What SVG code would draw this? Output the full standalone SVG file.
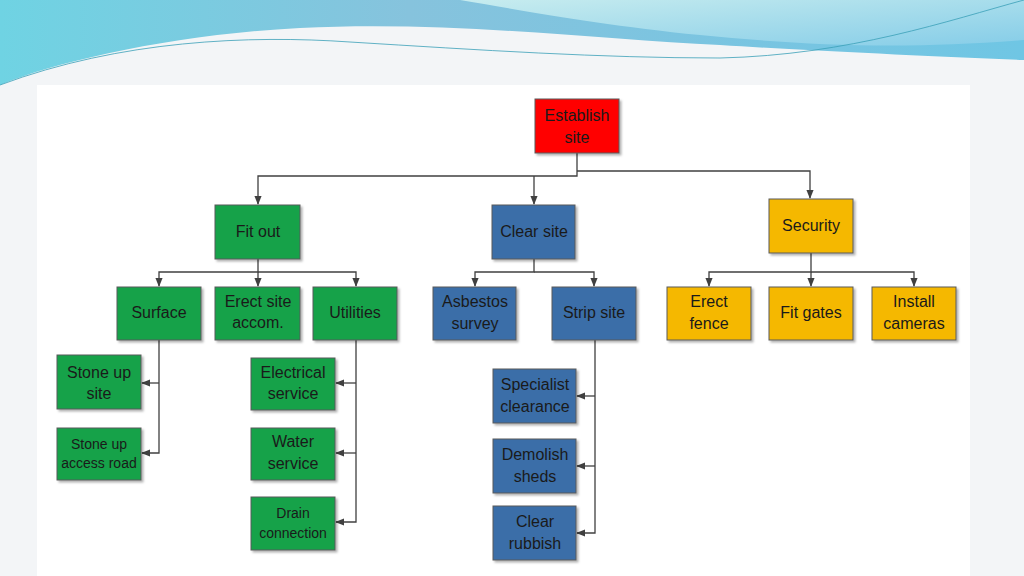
<svg xmlns="http://www.w3.org/2000/svg" width="1024" height="576" viewBox="0 0 1024 576">
<defs>
<linearGradient id="sky" x1="0" y1="0" x2="1" y2="0"><stop offset="0" stop-color="#6fd3e3"/><stop offset="0.4" stop-color="#86c3dd"/><stop offset="1" stop-color="#6fc6e4"/></linearGradient>
<linearGradient id="sky2" x1="0" y1="0" x2="1" y2="1"><stop offset="0" stop-color="#c7ecef"/><stop offset="1" stop-color="#86cde8"/></linearGradient>
<marker id="ah" viewBox="0 0 10 10" refX="9" refY="5" markerWidth="7" markerHeight="7" orient="auto"><path d="M0,1 L10,5 L0,9 z" fill="#404040"/></marker>
<filter id="sh" x="-10%" y="-10%" width="130%" height="130%"><feDropShadow dx="2" dy="2" stdDeviation="1.2" flood-color="#000" flood-opacity="0.3"/></filter>
</defs>
<style>
.n rect{stroke:#5a5a5a;stroke-width:1;filter:url(#sh)}
.g rect{fill:#12a24a}.b rect{fill:#3b6ea8}.y rect{fill:#f5b800}.r rect{fill:#ff0000}
text{font-family:"Liberation Sans",Arial,sans-serif;font-size:16px;fill:#1a1a1a;text-anchor:middle}
.s{font-size:14px}
#c path{fill:none;stroke:#404040;stroke-width:1.3}
</style>
<rect width="1024" height="576" fill="#f3f5f7"/>
<rect x="37" y="85" width="933" height="491" fill="#ffffff"/>
<path d="M0,0 H1024 V60 C900,55 800,50 720,45 C600,40 450,20 300,28 C180,34 60,60 0,85 Z" fill="url(#sky)"/>
<path d="M460,0 H1024 V40 C900,50 800,45 700,35 C600,25 520,10 460,0 Z" fill="url(#sky2)"/>
<path d="M0,85 C120,40 250,35 350,42 C480,50 600,58 720,58 C850,55 950,20 1024,0" fill="none" stroke="#3aa0b8" stroke-width="0.8"/>
<g id="c">
<path d="M577,153 V176 H258 V204" marker-end="url(#ah)"/>
<path d="M534,176 V204" marker-end="url(#ah)"/>
<path d="M577,171 H810 V198" marker-end="url(#ah)"/>
<path d="M258,259 V272 H159 V286" marker-end="url(#ah)"/>
<path d="M258,272 V286" marker-end="url(#ah)"/>
<path d="M258,272 H356 V286" marker-end="url(#ah)"/>
<path d="M534,259 V272 H475 V286" marker-end="url(#ah)"/>
<path d="M534,272 H594 V286" marker-end="url(#ah)"/>
<path d="M811,253 V272 H709 V286" marker-end="url(#ah)"/>
<path d="M811,272 V286" marker-end="url(#ah)"/>
<path d="M811,272 H914 V286" marker-end="url(#ah)"/>
<path d="M159,340 V453 H142" marker-end="url(#ah)"/>
<path d="M159,383 H142" marker-end="url(#ah)"/>
<path d="M356,340 V522 H336" marker-end="url(#ah)"/>
<path d="M356,383 H336" marker-end="url(#ah)"/>
<path d="M356,453 H336" marker-end="url(#ah)"/>
<path d="M595,340 V533 H577" marker-end="url(#ah)"/>
<path d="M595,396 H577" marker-end="url(#ah)"/>
<path d="M595,466 H577" marker-end="url(#ah)"/>
</g>
<g id="establish" class="n r"><rect x="535" y="99" width="84" height="54"/><text x="577" y="121">Establish</text><text x="577" y="143">site</text></g>
<g id="fitout" class="n g"><rect x="215" y="205" width="85" height="54"/><text x="258" y="237">Fit out</text></g>
<g id="clearsite" class="n b"><rect x="492" y="205" width="83" height="54"/><text x="534" y="237">Clear site</text></g>
<g id="security" class="n y"><rect x="769" y="199" width="84" height="54"/><text x="811" y="231">Security</text></g>
<g id="surface" class="n g"><rect x="117" y="287" width="84" height="53"/><text x="159" y="318">Surface</text></g>
<g id="erectsite" class="n g"><rect x="215" y="287" width="85" height="53"/><text x="258" y="307">Erect site</text><text x="258" y="328">accom.</text></g>
<g id="utilities" class="n g"><rect x="313" y="287" width="84" height="53"/><text x="355" y="318">Utilities</text></g>
<g id="asbestos" class="n b"><rect x="433" y="287" width="83" height="53"/><text x="475" y="307">Asbestos</text><text x="475" y="329">survey</text></g>
<g id="strip" class="n b"><rect x="552" y="287" width="84" height="53"/><text x="594" y="318">Strip site</text></g>
<g id="fence" class="n y"><rect x="667" y="287" width="84" height="53"/><text x="709" y="307">Erect</text><text x="709" y="329">fence</text></g>
<g id="gates" class="n y"><rect x="769" y="287" width="84" height="53"/><text x="811" y="318">Fit gates</text></g>
<g id="cameras" class="n y"><rect x="872" y="287" width="84" height="53"/><text x="914" y="307">Install</text><text x="914" y="329">cameras</text></g>
<g id="stonesite" class="n g"><rect x="57" y="355" width="84" height="54"/><text x="99" y="378">Stone up</text><text x="99" y="399">site</text></g>
<g id="stoneroad" class="n g"><rect x="57" y="428" width="84" height="52"/><text class="s" x="99" y="449">Stone up</text><text class="s" x="99" y="468">access road</text></g>
<g id="electrical" class="n g"><rect x="251" y="358" width="84" height="52"/><text x="293" y="378">Electrical</text><text x="293" y="399">service</text></g>
<g id="water" class="n g"><rect x="251" y="428" width="84" height="52"/><text x="293" y="447">Water</text><text x="293" y="469">service</text></g>
<g id="drain" class="n g"><rect x="251" y="497" width="84" height="53"/><text class="s" x="293" y="518">Drain</text><text class="s" x="293" y="538">connection</text></g>
<g id="specialist" class="n b"><rect x="493" y="369" width="83" height="54"/><text x="535" y="390">Specialist</text><text x="535" y="412">clearance</text></g>
<g id="demolish" class="n b"><rect x="493" y="439" width="83" height="54"/><text x="535" y="460">Demolish</text><text x="535" y="482">sheds</text></g>
<g id="rubbish" class="n b"><rect x="493" y="506" width="83" height="54"/><text x="535" y="527">Clear</text><text x="535" y="549">rubbish</text></g>
</svg>
